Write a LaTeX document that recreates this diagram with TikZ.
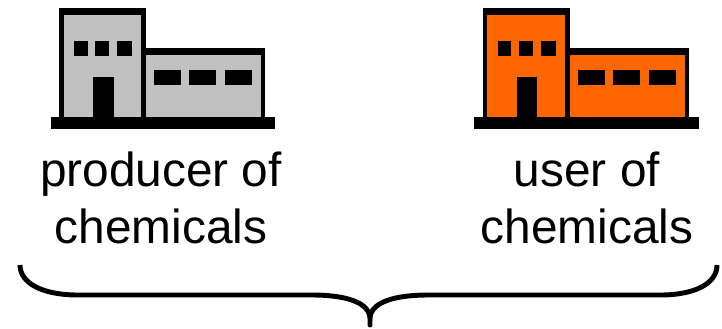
\documentclass[tikz,border=0pt]{standalone}
\usepackage{fontspec}
\setmainfont{Liberation Sans}
\definecolor{plantgrey}{HTML}{C0C0C0}
\definecolor{plantorange}{HTML}{FF6600}

\begin{document}
\begin{tikzpicture}[
        solid/.style ={fill=black, draw=none},
        lbl/.style   ={font=\fontsize{13.6}{16}\selectfont, align=center, inner sep=0pt},
        brace/.style ={draw=black, line width=1.4pt, line join=round},]

    \useasboundingbox (0,0) rectangle (7.22,3.28);

    \foreach \dx/\wall in {0/plantgrey, 4.235/plantorange} {
    \begin{scope}[xshift=\dx cm]
        % outline and base
        \fill[solid] (0.59,2.05) rectangle (1.46,3.20);
        \fill[solid] (1.40,2.05) rectangle (2.65,2.80);
        \fill[solid] (0.505,1.993) rectangle (2.75,2.11);
        % walls
        \fill[\wall] (0.635,2.11) rectangle (1.41,3.13);
        \fill[\wall] (1.46,2.11) rectangle (2.61,2.73);
        % door and windows
        \fill[solid] (0.93,2.11) rectangle (1.135,2.51);
        \foreach \x/\w in {0.74/0.135, 0.95/0.14, 1.17/0.15}
            \fill[solid] (\x,2.72) rectangle ++(\w,0.15);
        \foreach \x in {1.54, 1.89, 2.25}
            \fill[solid] (\x,2.43) rectangle ++(0.27,0.15);
    \end{scope}
    }

    \node[lbl] (producer) at (1.61,1.30) {producer of\\chemicals};
    \node[lbl] (user)     at (5.87,1.30) {user of\\chemicals};

    \draw[brace] (0.20,0.63)
        .. controls (0.20,0.45) and (0.42,0.33) .. (0.78,0.33)
        -- (3.12,0.33)
        .. controls (3.45,0.33) and (3.70,0.26) .. (3.70,0.09)
        -- (3.70,0.03) -- (3.70,0.09)
        .. controls (3.70,0.26) and (3.95,0.33) .. (4.28,0.33)
        -- (6.60,0.33)
        .. controls (6.96,0.33) and (7.17,0.45) .. (7.17,0.63);
\end{tikzpicture}
\end{document}
